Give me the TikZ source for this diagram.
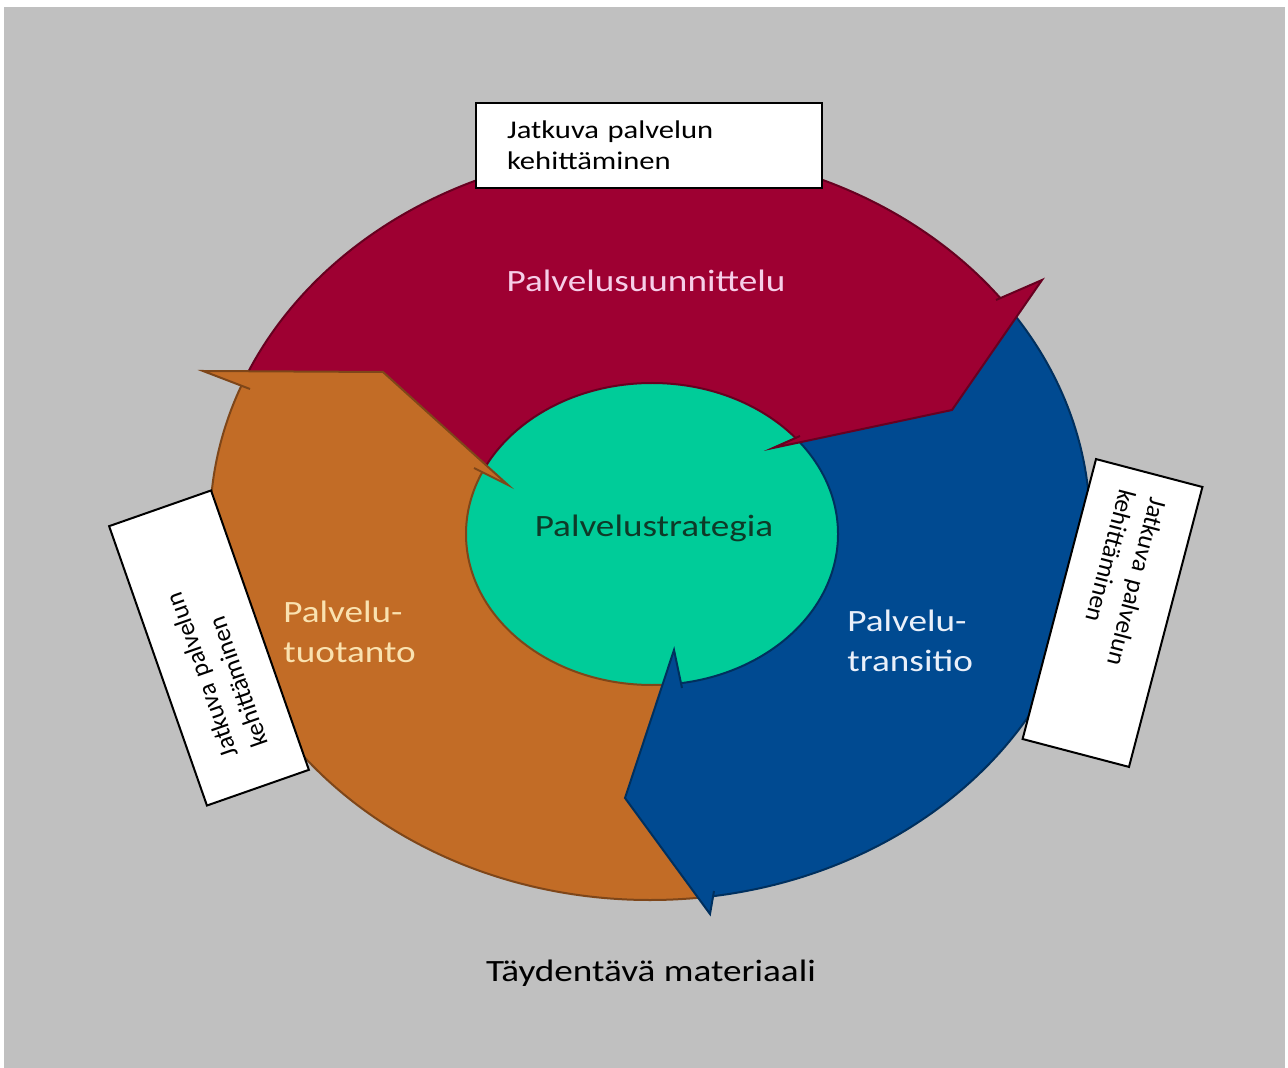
\documentclass[tikz,border=0pt]{standalone}
\usepackage{fontspec}
\setmainfont{Carlito}[FakeStretch=1.2]
\newfontfamily\sidefont{Carlito}
\usepackage{xcolor}

\definecolor{bggray}{RGB}{192,192,192}
\definecolor{designred}{RGB}{158,0,50}
\definecolor{transblue}{RGB}{0,74,145}
\definecolor{operorange}{RGB}{194,108,38}
\definecolor{stratgreen}{RGB}{0,204,153}
\definecolor{pinktext}{RGB}{246,206,232}
\definecolor{creamtext}{RGB}{250,226,176}
\definecolor{palebluetext}{RGB}{234,240,250}
\definecolor{darkgreentext}{RGB}{14,58,40}

\begin{document}
\begin{tikzpicture}[x=0.5pt,y=-0.5pt,
		lbl/.style={font=\fontsize{15.5}{20}\selectfont, inner sep=0pt},
		kbox/.style={draw=black, line width=1pt, fill=white, align=left, inner ysep=2pt},
		edge/.style={line width=1pt, #1!65!black}]
	\useasboundingbox (0,0) rectangle (1288,1068);
	\fill[white] (0,0) rectangle (1288,1068);
	\fill[bggray] (4,7) rectangle (1285,1068);

	% centres of the ring and of the disc
	\coordinate (Oc) at (650,525);
	\coordinate (C) at (652,534);
	% arrow heads: back of outer barb, outer barb, point, inner barb, back of inner barb
	\coordinate (rPo) at (996,300);  \coordinate (rB1) at (1042,280); \coordinate (rA) at (952,410);
	\coordinate (rB2) at (773,448);  \coordinate (rPi) at (800,436);
	\coordinate (bPo) at (714,891);  \coordinate (bB1) at (710,914);  \coordinate (bA) at (625,798);
	\coordinate (bB2) at (674,650);  \coordinate (bPi) at (682,688);
	\coordinate (oPo) at (250,389);  \coordinate (oB1) at (203,371);  \coordinate (oA) at (383,372);
	\coordinate (oB2) at (508,485);  \coordinate (oPi) at (474,468);

	\fill[stratgreen] (C) ellipse [x radius=186, y radius=151];

	% upper part of the ring
	\begin{scope}
		\clip (oB1) -- (oA) -- (oB2) -- (C) -- (rB2) -- (rA) -- (rB1) -- (1100,-200) -- (100,-200) -- (150,360) -- cycle;
		\fill[designred, even odd rule] (Oc) ellipse [x radius=440, y radius=375] (C) ellipse [x radius=186, y radius=151];
		\draw[edge=designred] (Oc) ellipse [x radius=440, y radius=375] (C) ellipse [x radius=186, y radius=151];
	\end{scope}
	% right part
	\begin{scope}
		\clip (rB1) -- (rA) -- (rB2) -- (C) -- (bB2) -- (bA) -- (bB1) -- (760,1100) -- (1300,1100) -- (1300,150) -- cycle;
		\fill[transblue, even odd rule] (Oc) ellipse [x radius=440, y radius=375] (C) ellipse [x radius=186, y radius=151];
		\draw[edge=transblue] (Oc) ellipse [x radius=440, y radius=375] (C) ellipse [x radius=186, y radius=151];
	\end{scope}
	% left part
	\begin{scope}
		\clip (bB1) -- (bA) -- (bB2) -- (C) -- (oB2) -- (oA) -- (oB1) -- (0,300) -- (0,1100) -- (700,1100) -- cycle;
		\fill[operorange, even odd rule] (Oc) ellipse [x radius=440, y radius=375] (C) ellipse [x radius=186, y radius=151];
		\draw[edge=operorange] (Oc) ellipse [x radius=440, y radius=375] (C) ellipse [x radius=186, y radius=151];
	\end{scope}

	% heads
	\fill[designred] (rPo) -- (rB1) -- (rA) -- (rB2) -- (rPi) -- cycle;
	\draw[edge=designred] (rPo) -- (rB1) -- (rA) -- (rB2) -- (rPi);
	\fill[transblue] (bPo) -- (bB1) -- (bA) -- (bB2) -- (bPi) -- cycle;
	\draw[edge=transblue] (bPo) -- (bB1) -- (bA) -- (bB2) -- (bPi);
	\fill[operorange] (oPo) -- (oB1) -- (oA) -- (oB2) -- (oPi) -- cycle;
	\draw[edge=operorange] (oPo) -- (oB1) -- (oA) -- (oB2) -- (oPi);

	\node[lbl, text=pinktext, anchor=base] (suunn) at (646,292) {Palvelusuunnittelu};
	\node[lbl, text=darkgreentext, anchor=base] (strat) at (654,537) {Palvelustrategia};
	\node[lbl, text=creamtext, anchor=base west, align=left] (tuot) at (283,662) {Palvelu-\\tuotanto};
	\node[lbl, text=palebluetext, anchor=base west, align=left] (trans) at (847,671) {Palvelu-\\transitio};
	\node[lbl, text=black, anchor=base] (taydm) at (651,981) {Täydentävä materiaali};

	\node[kbox, font=\fontsize{12.75}{15.5}\selectfont, minimum width=173pt, minimum height=42.5pt,
		inner xsep=15.5pt, text width=142pt] (ktop) at (649,145.5) {Jatkuva palvelun\\kehittäminen};
	\node[kbox, font=\sidefont\fontsize{12.7}{16}\selectfont, rotate=109.3, minimum width=148pt, minimum height=54pt,
		inner xsep=19pt, text width=110pt] (kleft) at (209,648) {Jatkuva palvelun\\kehittäminen};
	\node[kbox, font=\sidefont\fontsize{12.7}{16}\selectfont, rotate=-104.7, minimum width=144.7pt, minimum height=55pt,
		inner xsep=11pt, text width=122.7pt] (kright) at (1112.5,613) {Jatkuva palvelun\\kehittäminen};
\end{tikzpicture}
\end{document}
